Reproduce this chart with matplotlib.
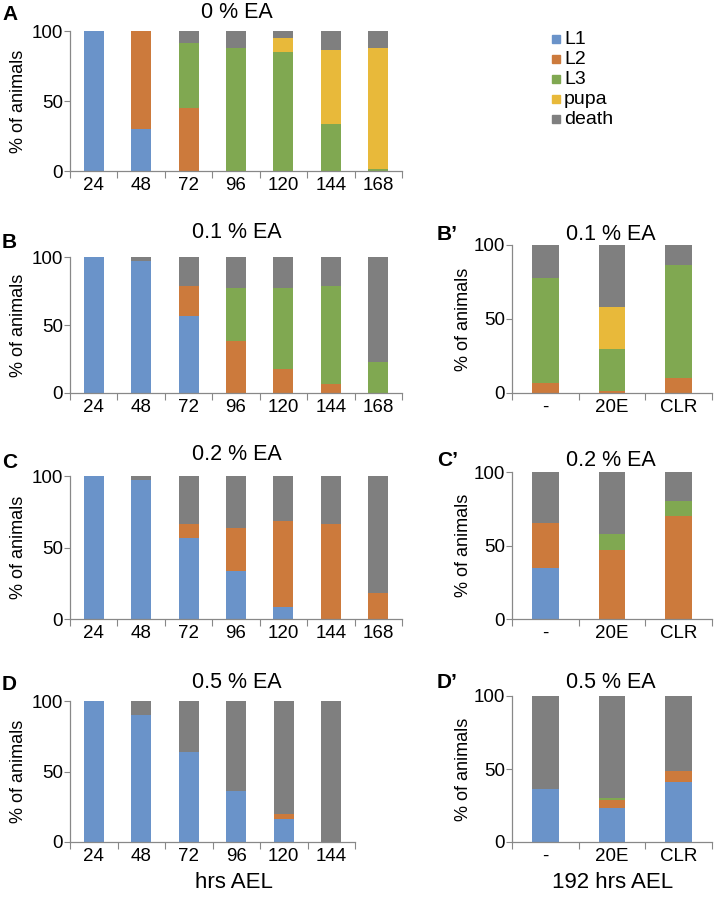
import matplotlib.pyplot as plt
import numpy as np

plt.rcParams['font.family'] = ['Liberation Sans', 'DejaVu Sans']

stages = ['L1', 'L2', 'L3', 'pupa', 'death']
colors = ['#6a93c9', '#cc7a3c', '#80a851', '#e8b93a', '#7f7f7f']

hours = ['24', '48', '72', '96', '120', '144', '168']
hours_d = ['24', '48', '72', '96', '120', '144']
treat = ['-', '20E', 'CLR']

# 0 % EA
a_L1 = [100, 30, 0, 0, 0, 0, 0]
a_L2 = [0, 70, 45, 0, 0, 0, 0]
a_L3 = [0, 0, 46.5, 88, 85, 33.5, 1.2]
a_pupa = [0, 0, 0, 0, 10, 53, 87]
a_death = [0, 0, 8.5, 12, 5, 13.5, 11.8]

# 0.1 % EA
b_L1 = [100, 97, 56.5, 0, 0, 0, 0]
b_L2 = [0, 0, 22, 38, 18, 6.5, 0]
b_L3 = [0, 0, 0, 39, 59, 72, 23]
b_pupa = [0, 0, 0, 0, 0, 0, 0]
b_death = [0, 3, 21.5, 23, 23, 21.5, 77]

# 0.2 % EA
c_L1 = [100, 97, 56.5, 33.3, 8.5, 0, 0]
c_L2 = [0, 0, 10, 30.2, 60, 66.7, 18.5]
c_L3 = [0, 0, 0, 0, 0, 0, 0]
c_pupa = [0, 0, 0, 0, 0, 0, 0]
c_death = [0, 3, 33.5, 36.5, 31.5, 33.3, 81.5]

# 0.5 % EA
d_L1 = [100, 90, 63.7, 36.3, 16, 0]
d_L2 = [0, 0, 0, 0, 3.7, 0]
d_L3 = [0, 0, 0, 0, 0, 0]
d_pupa = [0, 0, 0, 0, 0, 0]
d_death = [0, 10, 36.3, 63.7, 80.3, 100]

# 192 hrs AEL, treatments
bp_L1 = [0, 0, 0]
bp_L2 = [6.5, 1.6, 10]
bp_L3 = [71.5, 28, 76.3]
bp_pupa = [0, 28.4, 0]
bp_death = [22, 42, 13.7]

cp_L1 = [34.5, 0, 0]
cp_L2 = [31, 46.7, 70]
cp_L3 = [0, 11.3, 10]
cp_pupa = [0, 0, 0]
cp_death = [34.5, 42, 20]

dp_L1 = [36.4, 23, 41.2]
dp_L2 = [0, 5.5, 7.1]
dp_L3 = [0, 1.3, 0]
dp_pupa = [0, 0, 0]
dp_death = [63.6, 70.2, 51.7]

W, H = 714, 901
fig = plt.figure(figsize=(W / 100, H / 100), dpi=100)


def make_ax(x0, x1, ytop, ybot):
    return fig.add_axes([x0 / W, 1 - ybot / H, (x1 - x0) / W, (ybot - ytop) / H])


def draw_panel(ax, cats, series, width, ylab_off):
    x = np.arange(len(cats))
    bottom = np.zeros(len(cats))
    for vals, col in zip(series, colors):
        vals = np.array(vals, dtype=float)
        ax.bar(x, vals, width, bottom=bottom, color=col, linewidth=0)
        bottom += vals
    ax.set_xlim(-0.5, len(cats) - 0.5)
    ax.set_ylim(0, 100)
    ax.set_yticks([0, 50, 100])
    ax.set_xticks(x)
    ax.set_xticklabels(cats)
    ax.set_xticks(np.arange(len(cats) + 1) - 0.5, minor=True)
    ax.tick_params(axis='x', which='major', length=0, labelsize=13.5, pad=4)
    ax.tick_params(axis='x', which='minor', length=5, color='#888888', width=0.8)
    ax.tick_params(axis='y', length=4, color='#888888', width=0.8, labelsize=13.5, pad=1)
    for s in ['top', 'right']:
        ax.spines[s].set_visible(False)
    for s in ['left', 'bottom']:
        ax.spines[s].set_color('#888888')
        ax.spines[s].set_linewidth(0.9)
    ax.set_ylabel('% of animals', fontsize=13)
    bb = ax.get_position()
    ax.yaxis.set_label_coords(-ylab_off / (bb.width * W), 0.5)


axA = make_ax(70, 402, 31, 171)
draw_panel(axA, hours, [a_L1, a_L2, a_L3, a_pupa, a_death], 0.42, 43)
axB = make_ax(70, 402, 257, 393)
draw_panel(axB, hours, [b_L1, b_L2, b_L3, b_pupa, b_death], 0.42, 43)
axC = make_ax(70, 402, 476, 619)
draw_panel(axC, hours, [c_L1, c_L2, c_L3, c_pupa, c_death], 0.42, 43)
axD = make_ax(70, 355, 701, 842)
draw_panel(axD, hours_d, [d_L1, d_L2, d_L3, d_pupa, d_death], 0.42, 43)

axBp = make_ax(512, 712, 245, 393)
draw_panel(axBp, treat, [bp_L1, bp_L2, bp_L3, bp_pupa, bp_death], 0.4, 40)
axCp = make_ax(512, 712, 472, 619)
draw_panel(axCp, treat, [cp_L1, cp_L2, cp_L3, cp_pupa, cp_death], 0.4, 40)
axDp = make_ax(512, 712, 696, 842)
draw_panel(axDp, treat, [dp_L1, dp_L2, dp_L3, dp_pupa, dp_death], 0.4, 40)

# panel titles
for t, px, py in [('0 % EA', 237, 12), ('0.1 % EA', 237, 233), ('0.2 % EA', 237, 454),
                  ('0.5 % EA', 237, 682), ('0.1 % EA', 611, 235), ('0.2 % EA', 611, 460),
                  ('0.5 % EA', 611, 683)]:
    fig.text(px / W, 1 - py / H, t, fontsize=15.5, ha='center', va='center')

# panel letters
for lab, px, py in [('A', 2, 15), ('B', 2, 242), ('C', 2, 462), ('D', 2, 685),
                    ('B\u2019', 437, 235), ('C\u2019', 437, 460), ('D\u2019', 437, 683)]:
    fig.text(px / W, 1 - py / H, lab, fontsize=15, fontweight='bold', va='center', ha='left')

fig.text(234 / W, 1 - 883 / H, 'hrs AEL', fontsize=16, ha='center', va='center')
fig.text(613 / W, 1 - 883 / H, '192 hrs AEL', fontsize=16, ha='center', va='center')

# legend
for i, (st, col) in enumerate(zip(stages, colors)):
    y = 1 - (39 + i * 20) / H
    fig.patches.append(plt.Rectangle((552 / W, y - 4 / H), 8 / W, 8 / H, color=col,
                                     transform=fig.transFigure, figure=fig))
    fig.text(564 / W, y, st, fontsize=14, va='center', ha='left')

fig.savefig('out.png', dpi=100)
